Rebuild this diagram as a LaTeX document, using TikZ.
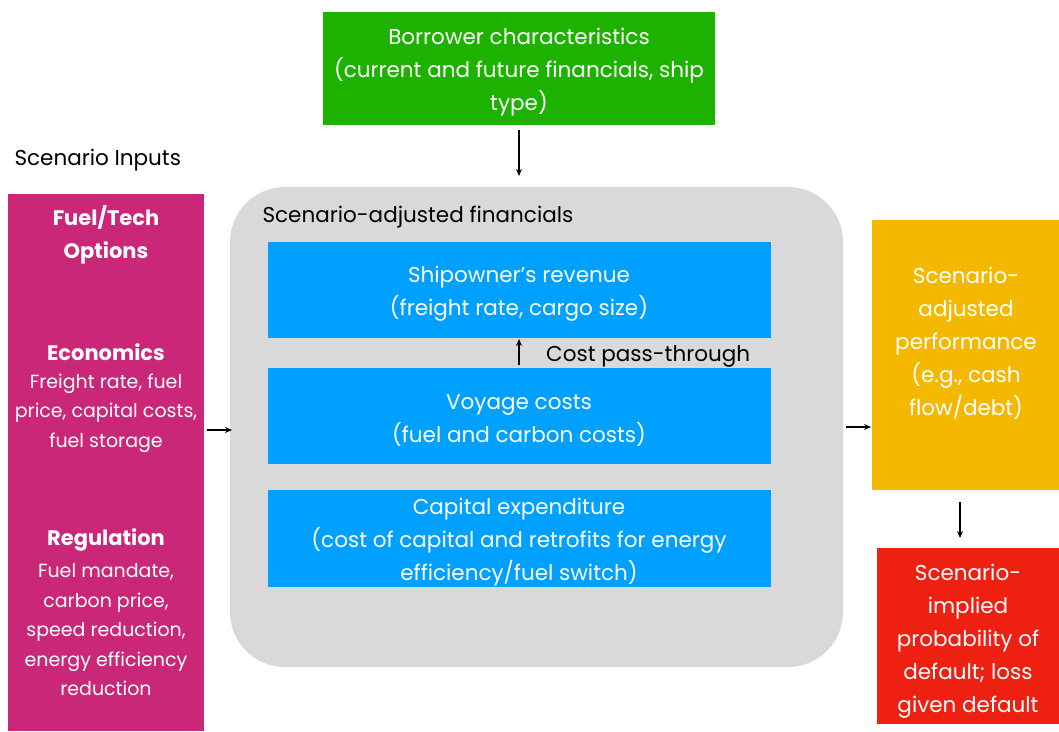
\documentclass[tikz,border=0pt]{standalone}
\usepackage{fontspec}
\setmainfont{Poppins}
\usetikzlibrary{arrows.meta}
\definecolor{cgreen}{RGB}{30,178,0}
\definecolor{cmag}{RGB}{203,39,120}
\definecolor{cgray}{RGB}{217,217,217}
\definecolor{cblue}{RGB}{0,160,255}
\definecolor{corange}{RGB}{245,184,0}
\definecolor{cred}{RGB}{238,32,17}
\begin{document}
\begin{tikzpicture}[x=1pt,y=-1pt,
  box/.style={draw=none,inner sep=0pt,text=white,align=center},
  maintext/.style={font=\fontsize{21.5}{33}\selectfont},
  sidetext/.style={font=\fontsize{19}{29.5}\selectfont},
  headtext/.style={font=\fontsize{21}{33}\selectfont\bfseries},
  arr/.style={-{Stealth[length=7pt,width=6pt]},line width=1.6pt,black}]
\useasboundingbox (0,0) rectangle (1059,731);
% boxes
\fill[cgreen] (323,12) rectangle (715,125);
\node[box,maintext] (green) at (519,72) {Borrower characteristics\\(current and future financials, ship\\type)};
\coordinate (greenb) at (519,130);
\node[anchor=west,maintext] (si) at (11,160) {Scenario Inputs};
\fill[cmag] (8,194) rectangle (204,731);
\node[box,headtext] (ft) at (106,235) {Fuel/Tech\\Options};
\node[box,headtext] (eco) at (106,352) {Economics};
\node[box,sidetext] (ecot) at (106,413) {Freight rate, fuel\\price, capital costs,\\fuel storage};
\node[box,headtext] (reg) at (106,540) {Regulation};
\node[box,sidetext] (regt) at (106,630) {Fuel mandate,\\carbon price,\\speed reduction,\\energy efficiency\\reduction};
\coordinate (magr) at (207,430);
% gray
\fill[cgray,rounded corners=55pt] (230,187) rectangle (843,667);
\coordinate (grayt) at (519,176);
\coordinate (grayl) at (232,430);
\coordinate (grayr) at (846,427);
\node[anchor=west,maintext] (saf) at (259,217) {Scenario-adjusted financials};
\fill[cblue] (268,242) rectangle (771,338);
\node[box,maintext] (rev) at (519,294) {Shipowner’s revenue\\(freight rate, cargo size)};
\fill[cblue] (268,368) rectangle (771,464);
\node[box,maintext] (voy) at (519,420) {Voyage costs\\(fuel and carbon costs)};
\fill[cblue] (268,490) rectangle (771,587);
\node[box,maintext] (cap) at (519,542) {Capital expenditure\\(cost of capital and retrofits for energy\\efficiency/fuel switch)};
\coordinate (revb) at (519,339);
\coordinate (voyt) at (519,365);
\node[anchor=west,maintext,inner sep=0pt] (cpt) at (546,356) {Cost pass-through};
% orange
\fill[corange] (872,220) rectangle (1059,490);
\node[box,maintext] (ora) at (966,343) {Scenario-\\adjusted\\performance\\(e.g., cash\\flow/debt)};
\coordinate (orl) at (871,427);
\coordinate (orb) at (960,502);
\fill[cred] (877,548) rectangle (1059,724);
\node[box,maintext] (red) at (968,641) {Scenario-\\implied\\probability of\\default; loss\\given default};
\coordinate (redt) at (960,538);
% arrows
\draw[arr] (greenb) -- (grayt);
\draw[arr] (magr) -- (grayl);
\draw[arr] (grayr) -- (orl);
\draw[arr] (orb) -- (redt);
\draw[arr] (voyt) -- (revb);
\end{tikzpicture}
\end{document}
